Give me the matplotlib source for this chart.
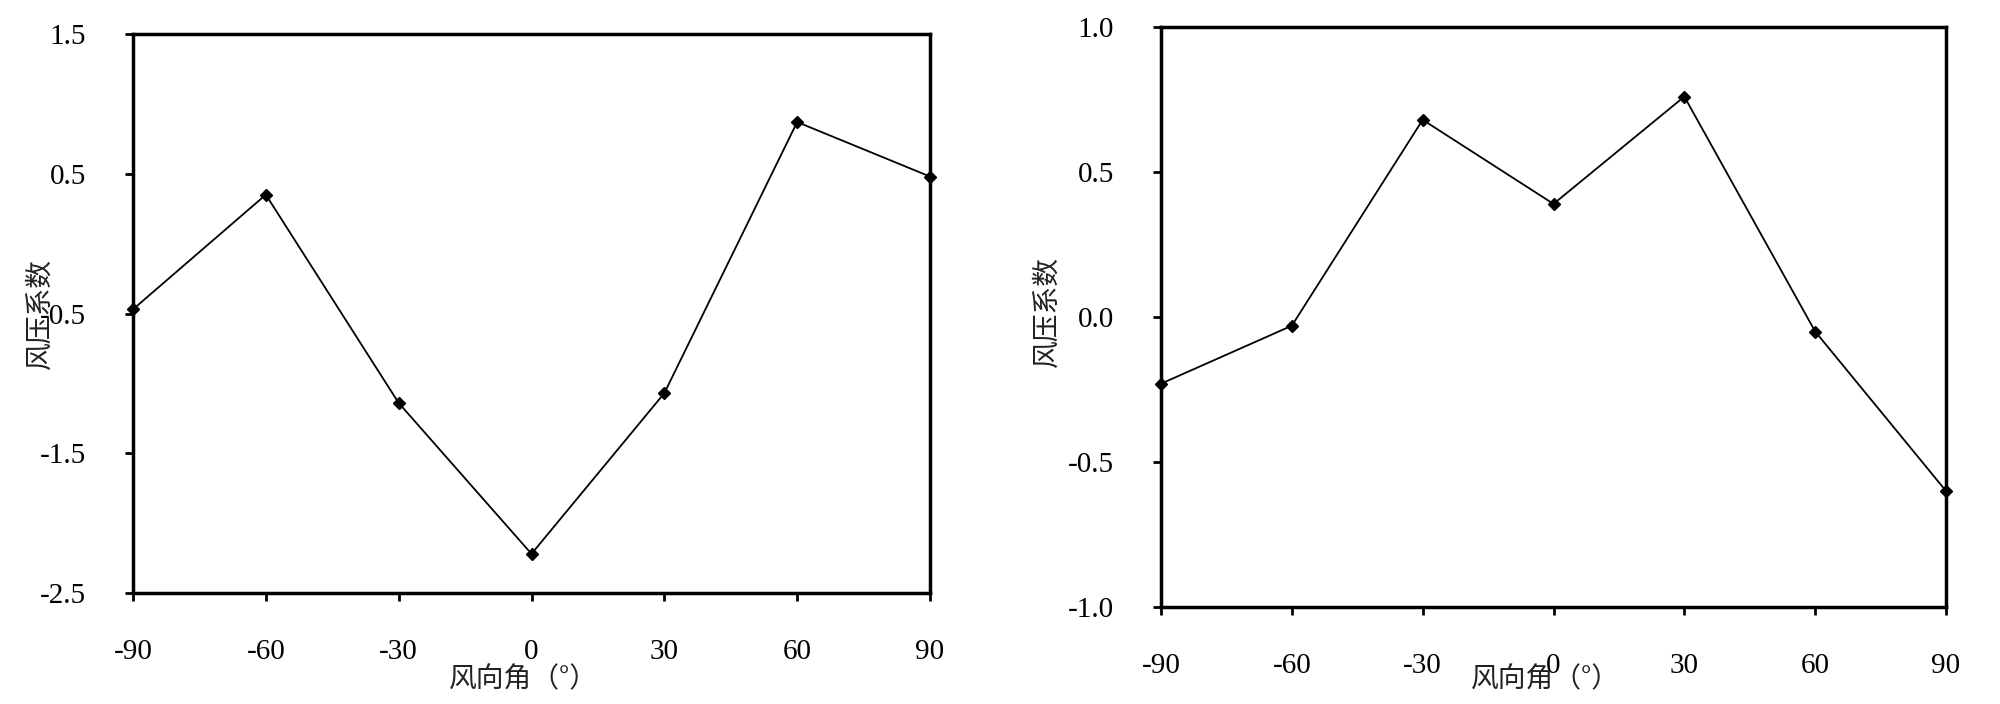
import matplotlib
matplotlib.use("Agg")
import matplotlib.pyplot as plt

# wind direction angles (deg)
angles = [-90, -60, -30, 0, 30, 60, 90]
# wind pressure coefficients
cp_left = [-0.47, 0.35, -1.14, -2.22, -1.07, 0.87, 0.48]
cp_right = [-0.23, -0.03, 0.68, 0.39, 0.76, -0.05, -0.60]

left_yticks = [-2.5, -1.5, -0.5, 0.5, 1.5]
right_yticks = [-1.0, -0.5, 0.0, 0.5, 1.0]

xlabel = "风向角（°）"
ylabel = "风压系数"

num_font = "Liberation Serif"
cjk_font = ["Noto Sans CJK SC", "DejaVu Sans"]

fig = plt.figure(figsize=(20, 7.04), dpi=100)
W, H = 2000, 704
ax1 = fig.add_axes([133 / W, 1 - 593 / H, (930 - 133) / W, (593 - 34) / H])
ax2 = fig.add_axes([1161 / W, 1 - 607 / H, (1946 - 1161) / W, (607 - 27) / H])


def style(ax, vals, yticks, ylim, xlab_y, ylab_x, ylab_y, fmt):
    ax.plot(angles, vals, color="black", lw=1.3, marker="D", ms=6.5,
            mfc="black", mec="black", clip_on=False, zorder=5)
    ax.set_xlim(-90, 90)
    ax.set_ylim(*ylim)
    ax.set_xticks(angles)
    ax.set_yticks(yticks)
    ax.set_xticklabels([str(a) for a in angles], fontfamily=num_font, fontsize=21)
    ax.set_yticklabels([fmt.format(v) for v in yticks], fontfamily=num_font, fontsize=21)
    for s in ax.spines.values():
        s.set_linewidth(2.5)
    ax.tick_params(axis="x", direction="out", length=6, width=2, pad=27)
    ax.tick_params(axis="y", direction="out", length=6, width=2, pad=28)
    ax.set_xlabel(xlabel, fontfamily=cjk_font, fontsize=20, color="#222222")
    ax.set_ylabel(ylabel, fontfamily=cjk_font, fontsize=20, color="#222222")
    ax.xaxis.set_label_coords(0.49, xlab_y)
    ax.yaxis.set_label_coords(ylab_x, ylab_y)


style(ax1, cp_left, left_yticks, (-2.5, 1.5), -0.127, -0.099, 0.50, "{:.1f}")
style(ax2, cp_right, right_yticks, (-1.0, 1.0), -0.099, -0.127, 0.51, "{:.1f}")

fig.savefig("out.png", dpi=100)
